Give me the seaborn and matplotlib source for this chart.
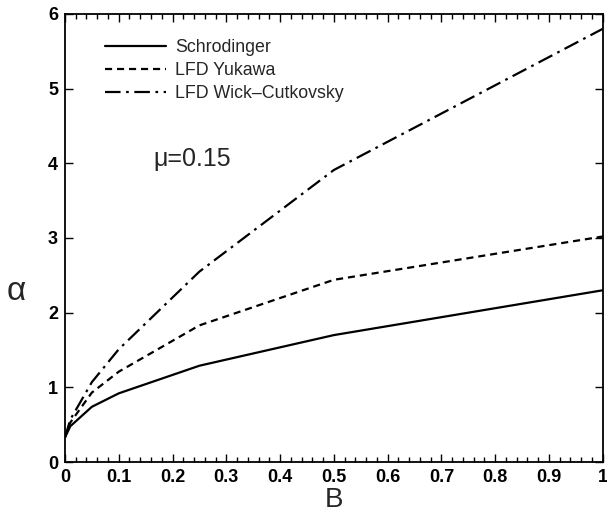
import matplotlib
matplotlib.use("Agg")
import matplotlib.pyplot as plt
import seaborn as sns
import pandas as pd
from matplotlib.ticker import MultipleLocator

B = [0.0, 0.01, 0.05, 0.1, 0.25, 0.5, 1.0]
schrodinger = [0.33, 0.48, 0.74, 0.92, 1.29, 1.70, 2.30]
yukawa = [0.33, 0.53, 0.93, 1.21, 1.83, 2.44, 3.02]
wick = [0.33, 0.57, 1.07, 1.51, 2.55, 3.91, 5.80]
labels = ["Schrodinger", "LFD Yukawa", "LFD Wick\u2013Cutkovsky"]
xtick_vals = [0, 0.1, 0.2, 0.3, 0.4, 0.5, 0.6, 0.7, 0.8, 0.9, 1.0]
xtick_labels = ["0", "0.1", "0.2", "0.3", "0.4", "0.5", "0.6", "0.7", "0.8", "0.9", "1"]

rows = []
for lab, vals in zip(labels, [schrodinger, yukawa, wick]):
    for b, v in zip(B, vals):
        rows.append({"B": b, "alpha": v, "series": lab})
df = pd.DataFrame(rows)

sns.set_style("ticks")
plt.rcParams['font.family'] = ['Liberation Sans', 'DejaVu Sans']

fig = plt.figure(figsize=(6.07, 5.14), dpi=100)
ax = fig.add_axes([0.107, 0.101, 0.886, 0.872])

dashes = {labels[0]: "", labels[1]: (3.2, 2.2), labels[2]: (7, 2.5, 1.2, 2.5)}
sns.lineplot(data=df, x="B", y="alpha", hue="series", style="series",
             palette=["black"] * 3, dashes=dashes, linewidth=1.6, ax=ax,
             sort=False, legend=True)

ax.set_xlim(0, 1)
ax.set_ylim(0, 6)
ax.set_xticks(xtick_vals)
ax.set_xticklabels(xtick_labels)
ax.xaxis.set_minor_locator(MultipleLocator(0.02))
ax.yaxis.set_major_locator(MultipleLocator(1))
ax.tick_params(axis="both", which="both", direction="in", top=True, right=True,
               labelsize=13, width=1.0, colors="black")
ax.tick_params(which="major", length=6, pad=5)
ax.tick_params(which="minor", length=3.5)
for t in ax.get_xticklabels() + ax.get_yticklabels():
    t.set_fontweight("bold")
for s in ax.spines.values():
    s.set_linewidth(1.3)
    s.set_color("black")

ax.set_xlabel("B", fontsize=20, va="center")
ax.xaxis.set_label_coords(0.5, -0.084)
ax.set_ylabel("\u03b1", fontsize=24, rotation=0, va="center", ha="center")
ax.yaxis.set_label_coords(-0.091, 0.38)

ax.text(0.165, 0.66, "\u03bc=0.15", transform=ax.transAxes, fontsize=18)

leg = ax.legend(loc="upper left", bbox_to_anchor=(0.045, 0.98), frameon=False,
                fontsize=12.8, handlelength=3.4, handletextpad=0.55, labelspacing=0.34)
for line in leg.get_lines():
    line.set_linewidth(1.6)

fig.savefig("out.png", dpi=100)
